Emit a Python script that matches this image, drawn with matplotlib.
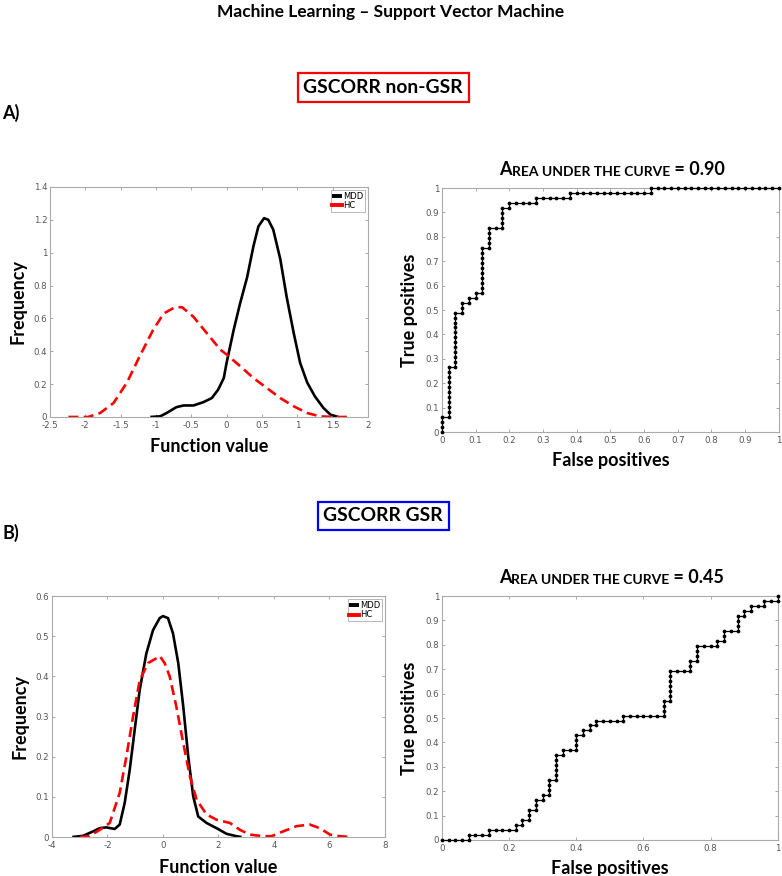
import numpy as np
import matplotlib
matplotlib.use('Agg')
import matplotlib.pyplot as plt

# ---- density curves, panel A (non-GSR) ----
a_mdd_x = [-1.08, -0.94, -0.85, -0.71, -0.61, -0.47, -0.33, -0.21, -0.12, -0.04, 0.0, 0.10,
           0.19, 0.29, 0.38, 0.45, 0.53, 0.59, 0.66, 0.76, 0.85, 0.95, 1.04, 1.14, 1.25,
           1.37, 1.47, 1.58]
a_mdd_y = [0.0, 0.004, 0.024, 0.06, 0.07, 0.07, 0.09, 0.115, 0.166, 0.237, 0.33, 0.53,
           0.69, 0.85, 1.04, 1.16, 1.21, 1.20, 1.14, 0.96, 0.73, 0.51, 0.33, 0.21, 0.125,
           0.055, 0.014, 0.0]
a_hc_x = [-2.24, -1.96, -1.79, -1.60, -1.41, -1.23, -1.04, -0.89, -0.73, -0.63, -0.47, -0.28,
          -0.09, 0.0, 0.19, 0.38, 0.57, 0.76, 0.95, 1.14, 1.32, 1.51, 1.73]
a_hc_y = [0.0, 0.0, 0.024, 0.085, 0.21, 0.37, 0.53, 0.63, 0.668, 0.668, 0.61, 0.51,
          0.41, 0.38, 0.31, 0.237, 0.176, 0.115, 0.065, 0.024, 0.004, 0.0, 0.0]

# ---- density curves, panel B (GSR) ----
b_mdd_x = [-3.27, -2.88, -2.52, -2.28, -2.04, -1.74, -1.56, -1.38, -1.20, -1.02, -0.84, -0.60,
           -0.36, -0.12, 0.0, 0.18, 0.36, 0.55, 0.73, 0.91, 1.09, 1.27, 1.57, 1.93, 2.29,
           2.65, 2.83]
b_mdd_y = [0.0, 0.003, 0.014, 0.022, 0.024, 0.02, 0.031, 0.085, 0.167, 0.267, 0.366, 0.457,
           0.515, 0.545, 0.55, 0.545, 0.507, 0.433, 0.325, 0.2, 0.101, 0.051, 0.035, 0.022,
           0.008, 0.002, 0.0]
b_hc_x = [-3.0, -2.64, -2.28, -1.92, -1.56, -1.32, -1.08, -0.84, -0.54, -0.24, -0.12, 0.06,
          0.24, 0.48, 0.73, 0.97, 1.21, 1.57, 1.93, 2.41, 2.77, 3.13, 3.61, 3.91, 4.33,
          4.81, 5.29, 5.65, 6.02, 6.38, 6.74]
b_hc_y = [0.0, 0.002, 0.018, 0.035, 0.11, 0.2, 0.3, 0.39, 0.433, 0.445, 0.451, 0.433,
          0.40, 0.325, 0.234, 0.151, 0.093, 0.056, 0.043, 0.035, 0.018, 0.006, 0.002, 0.002,
          0.014, 0.027, 0.031, 0.022, 0.006, 0.002, 0.0]

# ---- ROC corners: false-positive count where TP count jumps, TP count after jump ----
n_neg, n_pos = 50, 49
a_roc_fp = [0, 1, 2, 3, 4, 5, 6, 7, 9, 10, 14, 19, 31]
a_roc_tp = [3, 13, 24, 26, 27, 28, 37, 41, 45, 46, 47, 48, 49]
b_roc_fp = [4, 7, 11, 12, 13, 14, 15, 16, 17, 18, 20, 21, 22, 23, 27, 33, 34, 37, 38,
            41, 42, 44, 45, 46, 48, 50]
b_roc_tp = [1, 2, 3, 4, 6, 8, 9, 12, 17, 18, 21, 22, 23, 24, 25, 28, 34, 36, 39,
            40, 42, 45, 46, 47, 48, 49]
auc_labels = ['0.90', '0.45']

font = 'Lato'
gray = '#555555'


def roc_path(fp_steps, tp_steps):
  # walk the staircase one sample at a time
  fx, ty = [0], [0]
  f, t = 0, 0
  for nf, nt in zip(fp_steps + [n_neg], tp_steps + [tp_steps[-1]]):
    while f < nf:
      f += 1
      fx.append(f); ty.append(t)
    while t < nt:
      t += 1
      fx.append(f); ty.append(t)
  return np.array(fx) / n_neg, np.array(ty) / n_pos


def style_axes(ax):
  for s in ax.spines.values():
    s.set_color('#aaaaaa')
    s.set_linewidth(0.8)
  ax.tick_params(direction='in', length=2.5, width=0.6, color='#999999',
                 labelsize=6.2, labelcolor=gray, top=True, right=True, pad=2)
  ax.tick_params(axis='x', pad=3)


def density(ax, mx, my, hx, hy, xlim, ylim, xticks, yticks):
  ax.plot(mx, my, color='black', lw=1.9, label='MDD', solid_capstyle='butt')
  ax.plot(hx, hy, color='red', lw=1.9, dashes=(3.8, 2.0), label='HC')
  ax.set_xlim(*xlim)
  ax.set_ylim(*ylim)
  ax.set_xticks(xticks)
  ax.set_yticks(yticks)
  ax.set_xticklabels([('%g' % v) for v in xticks])
  ax.set_yticklabels([('%g' % v) for v in yticks])
  style_axes(ax)
  ax.set_xlabel('Function value', fontsize=13, fontweight='bold', family=font, labelpad=6)
  ax.set_ylabel('Frequency', fontsize=13, fontweight='bold', family=font, labelpad=5)
  leg = ax.legend(loc='upper right', fontsize=6, handlelength=1.2, handletextpad=0.1,
                  borderpad=0.2, labelspacing=0.1, fancybox=False, borderaxespad=0.35)
  leg.get_frame().set_edgecolor('#999999')
  leg.get_frame().set_linewidth(0.6)
  for h in leg.get_lines():
    h.set_linewidth(2.8)
    h.set_linestyle('-')


def roc(ax, fp_steps, tp_steps, auc, xticks):
  fx, ty = roc_path(fp_steps, tp_steps)
  ax.plot(fx, ty, color='black', lw=0.9, marker='o', ms=1.7, clip_on=False, zorder=5)
  ax.set_xlim(0, 1)
  ax.set_ylim(0, 1)
  ax.set_xticks(xticks)
  ax.set_xticklabels([('%g' % v) for v in xticks])
  yt = np.round(np.arange(0, 1.01, 0.1), 1)
  ax.set_yticks(yt)
  ax.set_yticklabels([('%g' % v) for v in yt])
  style_axes(ax)
  ax.set_xlabel('False positives', fontsize=13, fontweight='bold', family=font, labelpad=5)
  ax.set_ylabel('True positives', fontsize=13, fontweight='bold', family=font, labelpad=5)
  # small-caps style title
  t1 = ax.annotate('A', xy=(0.5, 1.0), xycoords='axes fraction', xytext=(-80, 7),
                   textcoords='offset points', fontsize=13, fontweight='bold', family=font,
                   ha='left', va='bottom')
  t2 = ax.annotate('REA UNDER THE CURVE', xy=(1, 0), xycoords=t1, fontsize=10,
                   fontweight='bold', family=font, ha='left', va='bottom')
  ax.annotate(' = ' + auc, xy=(1, 0), xycoords=t2, fontsize=13, fontweight='bold',
              family=font, ha='left', va='bottom')


fig = plt.figure(figsize=(7.82, 8.76), dpi=100)

ax1 = fig.add_axes([0.0639, 0.524, 0.4066, 0.2626])
density(ax1, a_mdd_x, a_mdd_y, a_hc_x, a_hc_y, (-2.5, 2), (0, 1.4),
        np.arange(-2.5, 2.01, 0.5), np.round(np.arange(0, 1.41, 0.2), 1))

ax2 = fig.add_axes([0.565, 0.5068, 0.431, 0.2785])
roc(ax2, a_roc_fp, a_roc_tp, auc_labels[0], np.round(np.arange(0, 1.01, 0.1), 1))

ax3 = fig.add_axes([0.0665, 0.0445, 0.4258, 0.2751])
density(ax3, b_mdd_x, b_mdd_y, b_hc_x, b_hc_y, (-4, 8), (0, 0.6),
        np.arange(-4, 8.1, 2), np.round(np.arange(0, 0.61, 0.1), 1))

ax4 = fig.add_axes([0.565, 0.0411, 0.4297, 0.2785])
roc(ax4, b_roc_fp, b_roc_tp, auc_labels[1], np.round(np.arange(0, 1.01, 0.2), 1))

fig.text(0.5, 0.986, 'Machine Learning \u2013 Support Vector Machine', ha='center', va='center',
         fontsize=12.5, fontweight='bold', family=font)
fig.text(0.49, 0.900, 'GSCORR non-GSR', ha='center', va='center', fontsize=13.9,
         fontweight='bold', family=font,
         bbox=dict(boxstyle='square,pad=0.3', fc='white', ec='red', lw=1.6))
fig.text(0.003, 0.8716, 'A)', ha='left', va='center', fontsize=13, fontweight='bold', family=font)
fig.text(0.49, 0.411, 'GSCORR GSR', ha='center', va='center', fontsize=13.9,
         fontweight='bold', family=font,
         bbox=dict(boxstyle='square,pad=0.3', fc='white', ec='blue', lw=1.6))
fig.text(0.003, 0.392, 'B)', ha='left', va='center', fontsize=13, fontweight='bold', family=font)

fig.savefig('out.png', dpi=100)
